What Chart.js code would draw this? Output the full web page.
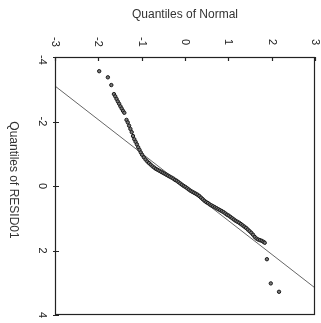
<!DOCTYPE html>
<html>
<head>
<meta charset="utf-8">
<script src="https://cdn.jsdelivr.net/npm/chart.js@4/dist/chart.umd.min.js"></script>
<style>
html,body{margin:0;padding:0;background:#fff;}
canvas{display:block;}
</style>
</head>
<body>
<canvas id="c" width="321" height="323"></canvas>
<script>
// Quantiles of Normal (x) and Quantiles of RESID01 (y)
const normalQ = [
 -1.98,-1.78,-1.70,-1.64,-1.61,-1.58,-1.55,-1.52,-1.49,-1.46,-1.43,-1.40,
 -1.35,-1.32,-1.29,-1.26,-1.23,-1.20,-1.17,-1.14,-1.11,-1.08,-1.05,-1.02,
 -0.99,-0.95,-0.91,-0.87,-0.83,-0.79,-0.75,-0.71,-0.67,-0.63,-0.59,-0.55,
 -0.51,-0.47,-0.43,-0.39,-0.35,-0.31,-0.27,-0.23,-0.19,-0.15,-0.11,-0.07,
 -0.03,0.01,0.05,0.09,0.13,0.17,0.21,0.25,0.29,0.33,0.37,0.41,0.45,0.49,
 0.53,0.57,0.61,0.65,0.69,0.73,0.77,0.81,0.85,0.89,0.93,0.97,1.01,1.05,
 1.09,1.13,1.17,1.21,1.25,1.29,1.33,1.37,1.41,1.45,1.49,1.53,1.57,1.61,
 1.65,1.69,1.73,1.77,1.81,1.84,1.89,1.98,2.17
];
const residQ = [
 -3.56,-3.37,-3.13,-2.85,-2.78,-2.70,-2.62,-2.55,-2.47,-2.40,-2.33,-2.27,
 -2.05,-1.97,-1.87,-1.77,-1.67,-1.55,-1.45,-1.37,-1.29,-1.20,-1.12,-1.04,
 -0.97,-0.89,-0.82,-0.76,-0.71,-0.66,-0.61,-0.57,-0.53,-0.50,-0.47,-0.44,
 -0.41,-0.38,-0.35,-0.32,-0.29,-0.26,-0.23,-0.19,-0.16,-0.12,-0.08,-0.04,
 0.00,0.03,0.07,0.11,0.15,0.18,0.21,0.24,0.27,0.31,0.36,0.41,0.46,0.50,
 0.53,0.57,0.60,0.63,0.66,0.69,0.72,0.75,0.78,0.81,0.85,0.89,0.92,0.96,
 1.00,1.04,1.08,1.11,1.14,1.18,1.22,1.26,1.30,1.35,1.40,1.45,1.51,1.58,
 1.63,1.66,1.68,1.70,1.73,1.76,2.27,3.02,3.28
];
// reference line endpoints
const lineX = [-3, 3];
const lineY = [-3.10, 3.16];
// tick labels
const xTicks = [-3,-2,-1,0,1,2,3];
const yTicks = [-4,-2,0,2,4];
const xTitle = "Quantiles of Normal";
const yTitle = "Quantiles of RESID01";

const pts = normalQ.map((x,i)=>({x:x,y:residQ[i]}));
const linePts = lineX.map((x,i)=>({x:x,y:lineY[i]}));

const framePlugin = {
  id:'frame',
  afterDraw(chart){
    const ctx = chart.ctx, a = chart.chartArea;
    const xs = chart.scales.x, ys = chart.scales.y;
    ctx.save();
    ctx.strokeStyle = '#222';
    ctx.lineWidth = 1.2;
    ctx.strokeRect(a.left+0.5, a.top+0.5, a.right-a.left-1, a.bottom-a.top-1);
    ctx.beginPath();
    xTicks.forEach(v=>{
      const px = Math.round(xs.getPixelForValue(v))+0.5;
      ctx.moveTo(px, a.top); ctx.lineTo(px, a.top+4);
    });
    yTicks.forEach(v=>{
      const py = Math.round(ys.getPixelForValue(v))+0.5;
      ctx.moveTo(a.left-2, py); ctx.lineTo(a.left+4, py);
    });
    ctx.stroke();
    ctx.fillStyle = '#222';
    ctx.font = '11px "Liberation Sans", Arial, sans-serif';
    ctx.textAlign = 'center';
    ctx.textBaseline = 'middle';
    xTicks.forEach(v=>{
      const px = xs.getPixelForValue(v);
      ctx.save(); ctx.translate(px, 42); ctx.rotate(Math.PI/2);
      ctx.fillText(String(v), 0, 0); ctx.restore();
    });
    yTicks.forEach(v=>{
      const py = ys.getPixelForValue(v);
      ctx.save(); ctx.translate(42, py + (v===-4?3:0)); ctx.rotate(Math.PI/2);
      ctx.fillText(String(v), 0, 0); ctx.restore();
    });
    ctx.fillStyle = '#333';
    ctx.font = '12px "Liberation Sans", Arial, sans-serif';
    ctx.fillText(xTitle, 185, 15);
    ctx.save(); ctx.translate(13, 180); ctx.rotate(Math.PI/2);
    ctx.fillText(yTitle, 0, 0); ctx.restore();
    ctx.restore();
  }
};

new Chart(document.getElementById('c'), {
  type:'scatter',
  data:{datasets:[
    {type:'line', data:linePts, borderColor:'#666', borderWidth:1, pointRadius:0, fill:false, order:2},
    {data:pts, showLine:false, pointRadius:1.7, pointBorderWidth:1, borderColor:'#1a1a1a', backgroundColor:'#777', order:1}
  ]},
  options:{
    responsive:false, animation:false,
    layout:{padding:{left:55,top:57,right:6,bottom:8}},
    plugins:{legend:{display:false}, tooltip:{enabled:false}},
    scales:{
      x:{type:'linear', position:'top', min:-3, max:3,
         ticks:{display:false, stepSize:1}, grid:{display:false, drawTicks:false}, border:{display:false},
         afterFit(s){s.height=0;}},
      y:{type:'linear', min:-4, max:4, reverse:true,
         ticks:{display:false, stepSize:2}, grid:{display:false, drawTicks:false}, border:{display:false},
         afterFit(s){s.width=0;}}
    }
  },
  plugins:[framePlugin]
});
</script>
</body>
</html>
